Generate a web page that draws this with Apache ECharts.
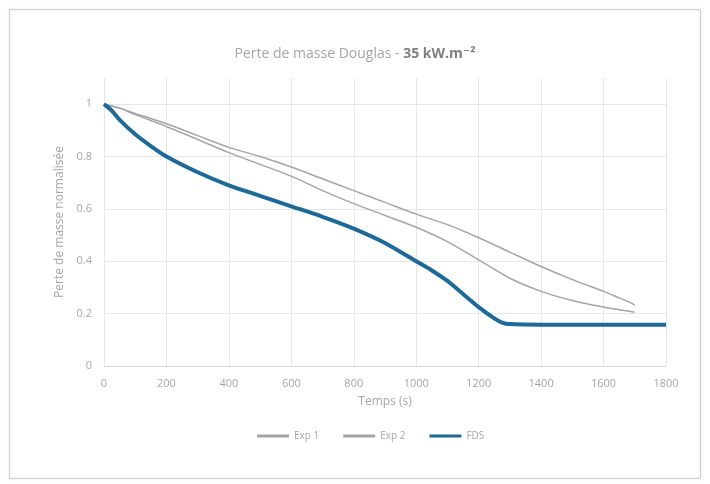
<!DOCTYPE html>
<html><head><meta charset="utf-8">
<script src="https://cdn.jsdelivr.net/npm/echarts@6/dist/echarts.min.js"></script>
<style>html,body{margin:0;padding:0;background:#fff}#c{width:710px;height:484px}</style>
</head><body><div id="c"></div>
<script>
const xTicks = [0,200,400,600,800,1000,1200,1400,1600,1800];
const yTicks = [0,0.2,0.4,0.6,0.8,1];
const exp1T = [0,50,100,200,300,400,500,600,700,800,900,1000,1100,1200,1300,1400,1500,1600,1650,1690,1700];
const exp1V = [1.0,0.985,0.965,0.925,0.88,0.835,0.80,0.76,0.715,0.67,0.625,0.58,0.54,0.49,0.435,0.38,0.33,0.285,0.26,0.24,0.232];
const exp2T = [0,50,100,200,300,400,500,600,700,800,900,1000,1100,1200,1300,1400,1500,1600,1700];
const exp2V = [1.0,0.985,0.96,0.915,0.865,0.815,0.77,0.725,0.67,0.62,0.575,0.53,0.475,0.405,0.335,0.285,0.25,0.225,0.205];
const fdsT = [0,25,50,100,150,200,300,400,500,600,700,800,900,1000,1050,1100,1150,1200,1250,1275,1300,1400,1800];
const fdsV = [1.0,0.975,0.94,0.885,0.84,0.80,0.74,0.69,0.65,0.61,0.57,0.525,0.47,0.40,0.365,0.325,0.275,0.225,0.182,0.166,0.16,0.158,0.158];
const zip = (t,v) => t.map((x,i)=>[x,v[i]]);
const chart = echarts.init(document.getElementById('c'));
const font = 'Open Sans, DejaVu Sans, sans-serif';
chart.setOption({
  animation:false,
  backgroundColor:'#fff',
  graphic:[{type:'rect',shape:{x:9.5,y:9.5,width:691,height:469},style:{fill:'none',stroke:'#d0d0d0',lineWidth:1,shadowBlur:3,shadowColor:'rgba(0,0,0,0.15)'},silent:true}],
  title:{
    text:'{n|Perte de masse Douglas - }{b|35 kW.m⁻²}',
    left:'center', top:42,
    textStyle:{fontWeight:'normal',rich:{n:{fontSize:14,color:'#a6a6a6',fontWeight:'normal',fontFamily:font},b:{fontSize:14,color:'#7f7f7f',fontWeight:'bold',fontFamily:font}}}
  },
  grid:{left:104,right:44,top:78,bottom:118},
  legend:{
    bottom:38, left:252, itemWidth:32, itemHeight:3, itemGap:24,
    icon:'rect',
    textStyle:{color:'#a6a6a6',fontSize:10,fontFamily:font},
    data:['Exp 1','Exp 2','FDS']
  },
  xAxis:{
    type:'value', min:0, max:1800, interval:200,
    name:'Temps (s)', nameLocation:'middle', nameGap:30,
    nameTextStyle:{color:'#a6a6a6',fontSize:12,fontFamily:font},
    axisLine:{lineStyle:{color:'#d9d9d9'}},
    axisTick:{show:false},
    axisLabel:{color:'#a6a6a6',fontSize:11,fontFamily:font,margin:12,formatter:v=>String(v)},
    splitLine:{show:true,lineStyle:{color:'#e6e6e6'}}
  },
  yAxis:{
    type:'value', min:0, max:1.1, interval:0.2,
    name:'Perte de masse normalisée', nameLocation:'middle', nameGap:36,
    nameTextStyle:{color:'#a6a6a6',fontSize:12,fontFamily:font},
    axisLine:{show:false}, axisTick:{show:false},
    axisLabel:{color:'#a6a6a6',fontSize:11,fontFamily:font,margin:12,showMaxLabel:false,
      formatter:v=> yTicks.some(t=>Math.abs(t-v)<1e-9) ? String(+v.toFixed(1)) : ''},
    splitLine:{show:true,showMaxLine:false,lineStyle:{color:'#e6e6e6'}}
  },
  series:[
    {name:'Exp 1',type:'line',data:zip(exp1T,exp1V),showSymbol:false,smooth:0.25,lineStyle:{color:'#a5a5a5',width:1.5},itemStyle:{color:'#a5a5a5'}},
    {name:'Exp 2',type:'line',data:zip(exp2T,exp2V),showSymbol:false,smooth:0.25,lineStyle:{color:'#a5a5a5',width:1.5},itemStyle:{color:'#a5a5a5'}},
    {name:'FDS',type:'line',data:zip(fdsT,fdsV),showSymbol:false,smooth:0.25,lineStyle:{color:'#1d6a98',width:4},itemStyle:{color:'#1d6a98'}}
  ]
});
</script></body></html>
